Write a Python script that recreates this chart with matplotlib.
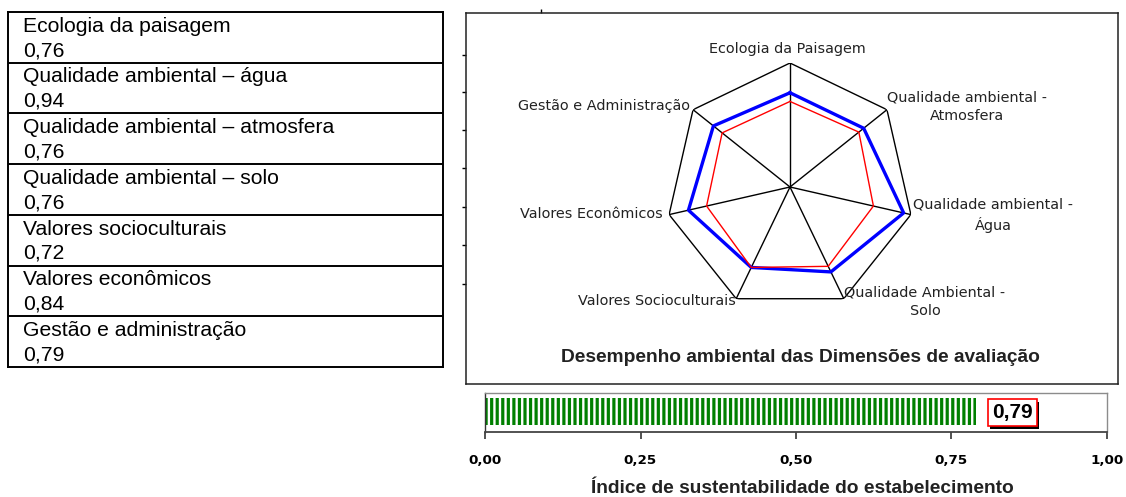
import numpy as np
import matplotlib
matplotlib.use("Agg")
import matplotlib.pyplot as plt
import matplotlib.patheffects as pe

# table on the left
table_labels = ["Ecologia da paisagem", "Qualidade ambiental – água",
                "Qualidade ambiental – atmosfera", "Qualidade ambiental – solo",
                "Valores socioculturais", "Valores econômicos",
                "Gestão e administração"]
table_scores = [0.76, 0.94, 0.76, 0.76, 0.72, 0.84, 0.79]

# radar (clockwise from the top)
radar_labels = ["Ecologia da Paisagem", "Qualidade ambiental -\nAtmosfera",
                "Qualidade ambiental -\nÁgua", "Qualidade Ambiental -\nSolo",
                "Valores Socioculturais", "Valores Econômicos",
                "Gestão e Administração"]
radar_scores = [0.76, 0.76, 0.94, 0.76, 0.72, 0.84, 0.79]
radar_reference = [0.69, 0.71, 0.69, 0.71, 0.72, 0.69, 0.70]
radar_title = "Desempenho ambiental das Dimensões de avaliação"

# overall index bar
index_value = 0.79
index_ticks = [0.0, 0.25, 0.50, 0.75, 1.0]
index_label = "Índice de sustentabilidade do estabelecimento"

W, H = 1126, 497
ARIAL = ["Liberation Sans", "DejaVu Sans"]


def box(x0, y0, x1, y1):
    # pixel box (top-left origin) -> figure fraction rect
    return [x0 / W, 1 - y1 / H, (x1 - x0) / W, (y1 - y0) / H]


def fx(x):
    return x / W


def fy(y):
    return 1 - y / H


def comma(v):
    return f"{v:.2f}".replace(".", ",")


fig = plt.figure(figsize=(W / 100, H / 100), dpi=100)
plt.rcParams["hatch.linewidth"] = 2.3

# ---- table ----
ax_t = fig.add_axes(box(8, 12, 443, 367))
ax_t.set_xlim(0, 1)
ax_t.set_ylim(len(table_labels), 0)
ax_t.set_xticks([])
ax_t.set_yticks([])
for s in ax_t.spines.values():
    s.set_linewidth(1.4)
ax_t.hlines(np.arange(1, len(table_labels)), 0, 1, color="black", lw=1.4)
for i, (lab, val) in enumerate(zip(table_labels, table_scores)):
    ax_t.text(0.035, i + 0.28, lab, va="center", ha="left", fontsize=15.2, family=ARIAL)
    ax_t.text(0.035, i + 0.76, comma(val), va="center", ha="left", fontsize=15.2,
              family=ARIAL)

# ---- frame around the radar, with the leftover axis ticks ----
ax_f = fig.add_axes(box(466, 13, 1118, 384))
ax_f.set_xlim(466, 1118)
ax_f.set_ylim(384, 13)
ax_f.set_yticks([55, 92, 130, 168, 207, 245, 284])
ax_f.set_xticks([541])
ax_f.tick_params(axis="y", direction="out", length=3, width=1, labelleft=False)
ax_f.tick_params(axis="x", direction="out", length=3, width=1, bottom=False, top=True,
                 labelbottom=False)
for s in ax_f.spines.values():
    s.set_linewidth(1.1)
    s.set_color("#222222")

# ---- radar ----
cx, cy, R = 790, 187, 124
ax_r = fig.add_axes(box(cx - R, cy - R, cx + R, cy + R), projection="polar")
ax_r.set_theta_offset(np.pi / 2)
ax_r.set_theta_direction(-1)
ax_r.set_ylim(0, 1)
ax_r.grid(False)
ax_r.set_xticks([])
ax_r.set_yticks([])
ax_r.spines["polar"].set_visible(False)
ax_r.patch.set_alpha(0)

n = len(radar_labels)
theta = np.linspace(0, 2 * np.pi, n, endpoint=False)
closed = np.append(theta, theta[0])
ax_r.plot(closed, np.ones(n + 1), color="black", lw=1.0)
for t in theta:
    ax_r.plot([t, t], [0, 1], color="black", lw=1.0)
ax_r.plot(closed, radar_scores + radar_scores[:1], color="#0000ff", lw=2.4)
ax_r.plot(closed, radar_reference + radar_reference[:1], color="#ff0000", lw=1.0)

label_pos = [(787, 49, "center"), (967, 107, "center"), (993, 215, "center"),
             (925, 302, "center"), (736, 301, "right"), (663, 214, "right"),
             (690, 106, "right")]
for lab, (x, y, ha) in zip(radar_labels, label_pos):
    fig.text(fx(x), fy(y), lab, ha=ha, va="center", fontsize=10.4, color="#222222",
             family="DejaVu Sans", linespacing=1.45)

fig.text(fx(800), fy(357), radar_title, ha="center", va="center", fontsize=13.8,
         fontweight="bold", family=ARIAL, color="#222222")

# ---- index bar ----
ax_b = fig.add_axes(box(485, 393, 1107, 432))
ax_b.set_xlim(0, 1)
ax_b.set_ylim(0, 1)
ax_b.barh(0.52, index_value, height=0.7, left=0, color="white",
          edgecolor="#008000", hatch="|||", linewidth=0)
ax_b.set_yticks([])
ax_b.set_xticks(index_ticks)
ax_b.set_xticklabels([comma(v) for v in index_ticks], fontsize=9.7,
                     fontweight="bold", family="DejaVu Sans")
ax_b.tick_params(axis="x", direction="out", length=5, width=1.2, pad=11,
                 color="#333333")
for s in ax_b.spines.values():
    s.set_color("#8c8c8c")
    s.set_linewidth(1.0)
ax_b.spines["left"].set_color("#333333")
ax_b.spines["bottom"].set_color("#444444")
ax_b.spines["bottom"].set_linewidth(1.3)
ax_b.set_xlabel(index_label, fontsize=13.8, fontweight="bold", family=ARIAL,
                labelpad=9, color="#222222")
ax_b.xaxis.label.set_x(0.511)

t = ax_b.text(0.8475, 0.5, comma(index_value), ha="center", va="center", fontsize=15,
              fontweight="bold", family=ARIAL,
              bbox=dict(boxstyle="square,pad=0.2", fc="white", ec="red", lw=1.2))
t.get_bbox_patch().set_path_effects(
    [pe.SimplePatchShadow(offset=(2, -2), shadow_rgbFace="black", alpha=1.0), pe.Normal()])

fig.savefig("out.png", dpi=100)
